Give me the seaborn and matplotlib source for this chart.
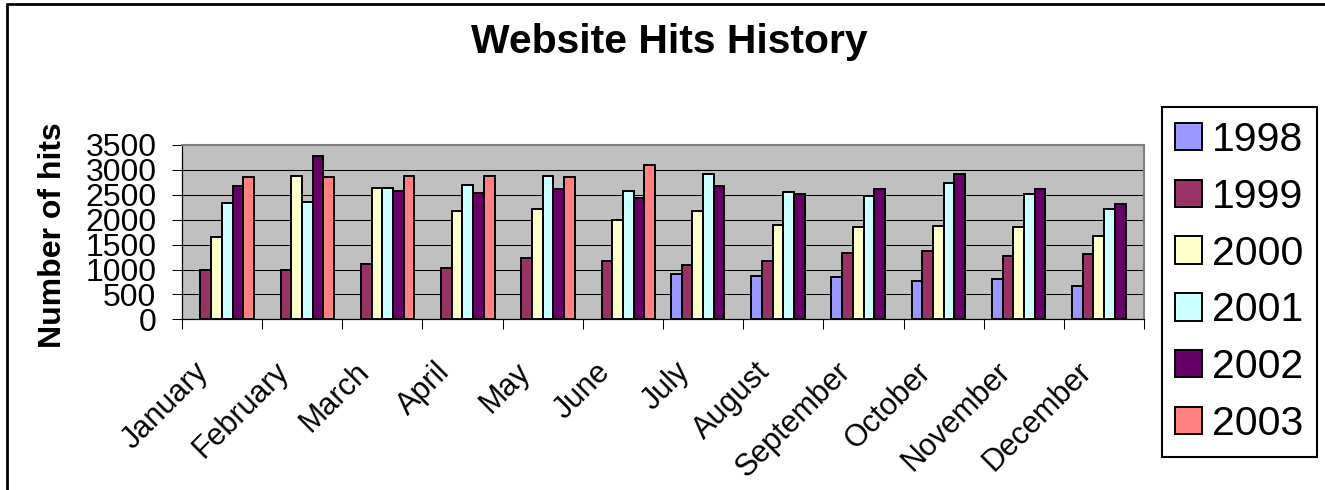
import numpy as np
import pandas as pd
import matplotlib
matplotlib.use("Agg")
import matplotlib.pyplot as plt
from matplotlib.patches import Rectangle
from matplotlib.transforms import ScaledTranslation
import seaborn as sns

months = ["January", "February", "March", "April", "May", "June", "July",
          "August", "September", "October", "November", "December"]
years = ["1998", "1999", "2000", "2001", "2002", "2003"]
nan = np.nan
hits_1998 = [nan, nan, nan, nan, nan, nan, 915, 875, 850, 775, 815, 675]
hits_1999 = [1000, 990, 1105, 1035, 1235, 1175, 1085, 1165, 1335, 1370, 1275, 1305]
hits_2000 = [1655, 2880, 2645, 2175, 2220, 1995, 2180, 1895, 1855, 1875, 1855, 1675]
hits_2001 = [2330, 2355, 2645, 2705, 2885, 2580, 2925, 2550, 2480, 2745, 2520, 2215]
hits_2002 = [2685, 3285, 2575, 2545, 2625, 2435, 2670, 2510, 2610, 2910, 2610, 2315]
hits_2003 = [2860, 2860, 2880, 2880, 2860, 3105, nan, nan, nan, nan, nan, nan]
colors = ["#9999FF", "#993366", "#FFFFCC", "#CCFFFF", "#660066", "#FF8080"]
yticks = [0, 500, 1000, 1500, 2000, 2500, 3000, 3500]

series = [hits_1998, hits_1999, hits_2000, hits_2001, hits_2002, hits_2003]
rows = []
for yr, vals in zip(years, series):
    for m, v in zip(months, vals):
        rows.append({"Month": m, "Year": yr, "Hits": v})
df = pd.DataFrame(rows)

sns.set_theme(style="white")
plt.rcParams["font.family"] = ["Liberation Sans", "DejaVu Sans"]
plt.rcParams["text.color"] = "black"
plt.rcParams["axes.labelcolor"] = "black"
plt.rcParams["xtick.color"] = "black"
plt.rcParams["ytick.color"] = "black"

W, H = 1325, 490
fig = plt.figure(figsize=(W / 100, H / 100), dpi=100)
fig.patch.set_facecolor("white")
ax = fig.add_axes([181.7 / W, 1 - 319.3 / H, (1144.3 - 181.7) / W, (319.3 - 145) / H])

sns.barplot(data=df, x="Month", y="Hits", hue="Year", order=months, hue_order=years,
            palette=colors, width=0.8, gap=0, errorbar=None, edgecolor="black",
            linewidth=1.4, saturation=1, ax=ax, zorder=3)

ax.set_facecolor("#C0C0C0")
ax.set_xlim(-0.5, len(months) - 0.5)
ax.set_ylim(yticks[0], yticks[-1])
ax.set_yticks(yticks)
ax.set_yticklabels([str(t) for t in yticks])
ax.yaxis.grid(True, color="black", linewidth=0.75)
ax.xaxis.grid(False)
ax.set_axisbelow(True)

ax.set_xticks(np.arange(len(months)))
ax.set_xticklabels(months, rotation=45, ha="right", va="center",
                   rotation_mode="anchor", fontsize=22, color="black")
ax.set_xticks(np.arange(len(months) + 1) - 0.5, minor=True)
ax.tick_params(axis="x", which="major", length=0, pad=36, labelcolor="black")
ax.tick_params(axis="x", which="minor", bottom=True, length=7.2, width=0.75,
               color="black", direction="out")
ax.tick_params(axis="y", which="major", left=True, length=7.2, width=0.75,
               color="black", labelcolor="black", direction="out", labelsize=23, pad=11)
shift = ScaledTranslation(-0.175, 0.02, fig.dpi_scale_trans)
for lbl in ax.get_xticklabels():
    lbl.set_transform(lbl.get_transform() + shift)

for side in ["left", "bottom"]:
    ax.spines[side].set_color("black")
    ax.spines[side].set_linewidth(0.9)
for side in ["top", "right"]:
    ax.spines[side].set_color("#808080")
    ax.spines[side].set_linewidth(1.5)

ax.set_xlabel("")
ax.set_ylabel("Number of hits", fontsize=23, fontweight="bold", va="center", color="black")
ax.yaxis.set_label_coords((53 - 181.7) / (1144.3 - 181.7), (319.3 - 235.5) / (319.3 - 145))

fig.text(669.7 / W, 1 - 53.3 / H, "Website Hits History", ha="center", va="baseline",
         fontsize=29.4, fontweight="bold", color="black")

handles, labels = ax.get_legend_handles_labels()
if ax.get_legend() is not None:
    ax.get_legend().remove()
leg = fig.legend(handles, labels, loc="upper left",
                 bbox_to_anchor=(1161.7 / W, 1 - 107.3 / H),
                 bbox_transform=fig.transFigure, borderaxespad=0,
                 fontsize=29.5, frameon=True, fancybox=False, framealpha=1,
                 edgecolor="black", handlelength=0.65, handleheight=0.65,
                 handletextpad=0.25, labelspacing=0.46, borderpad=0.33,
                 labelcolor="black")
leg.get_frame().set_linewidth(1.5)
for h in leg.legend_handles:
    h.set_edgecolor("black")
    h.set_linewidth(1.4)

fig.patches.append(Rectangle((7.5 / W, -0.2), 1.2, 1.2 - 4 / H, transform=fig.transFigure,
                             fill=False, edgecolor="black", linewidth=2))

fig.savefig("out.png", dpi=100)
